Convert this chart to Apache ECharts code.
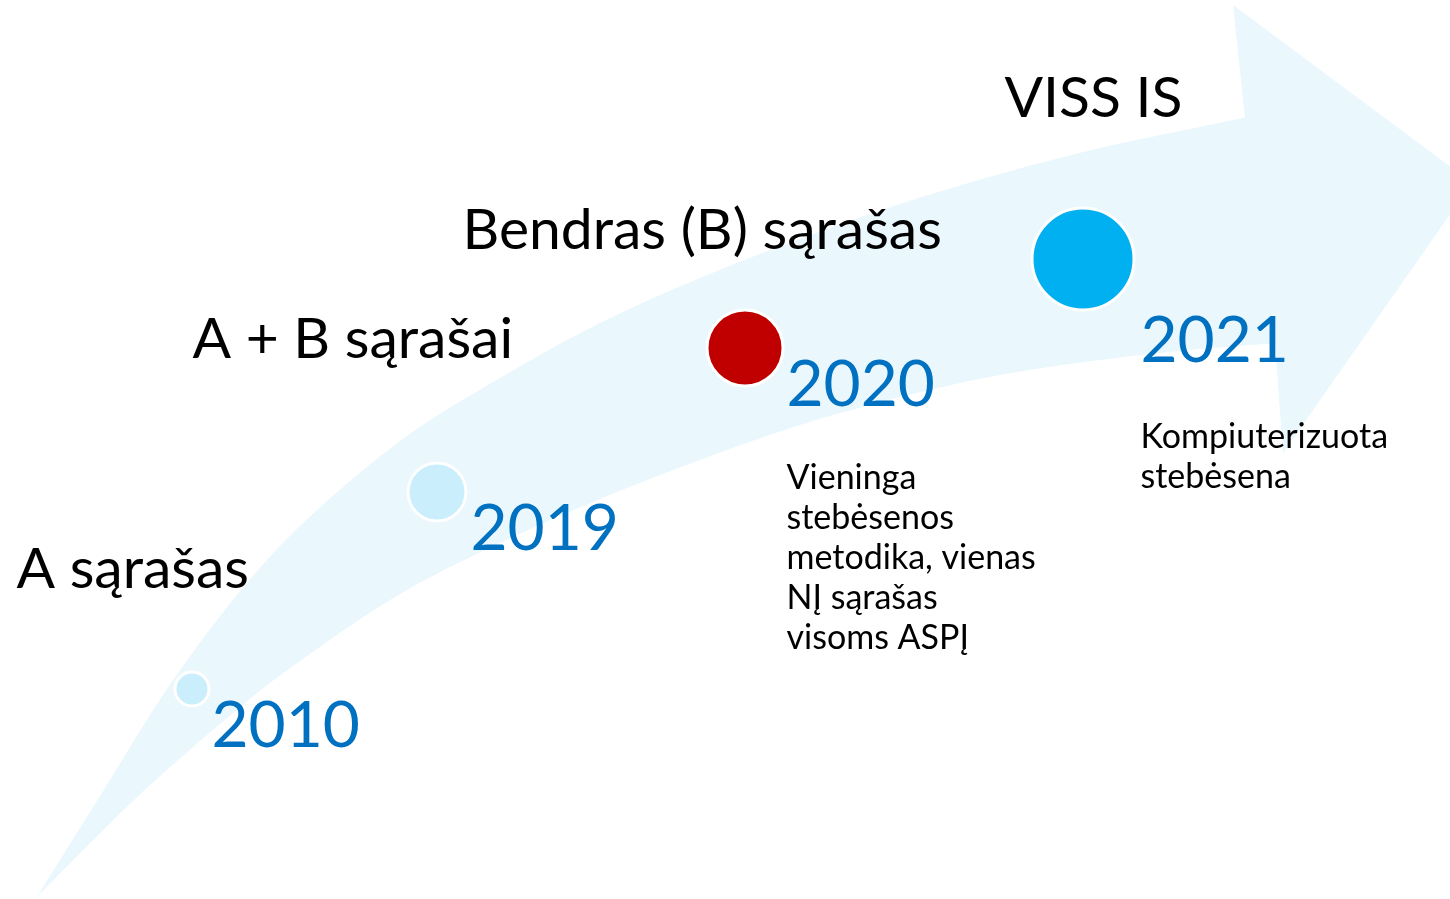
<!DOCTYPE html>
<html>
<head>
<meta charset="utf-8">
<title>NĮ sąrašų raida</title>
<script src="https://cdn.jsdelivr.net/npm/echarts@6/dist/echarts.min.js"></script>
<style>
    html, body { margin: 0; padding: 0; background: #fff; }
    #chart { width: 1450px; height: 899px; }
</style>
</head>
<body>
<div id="chart"></div>
<script>
// arrow outline (x right, y down)
var arrowTop = [[37, 897], [100, 796], [167, 689], [233, 600], [300, 526], [400, 441], [500, 378],
    [600, 323], [700, 278], [800, 239], [900, 204], [1000, 174], [1100, 148], [1200, 127], [1262, 114]];
var arrowBottom = [[1276, 343], [1200, 349], [1100, 360], [1000, 375], [900, 397], [800, 425],
    [700, 460], [600, 499], [500, 543], [400, 594], [300, 661], [233, 713], [133, 801], [37, 897]];
var arrowHead = [[1233, 5], [1472, 183], [1283, 453], [1275, 343], [1200, 349], [1200, 127], [1245, 118]];

// milestones
var years = ['2010', '2019', '2020', '2021'];
var dotX = [192, 437, 745, 1083];
var dotY = [689, 492, 348, 259];
var yearX = [212, 471, 787, 1141];
var yearY = [727, 530, 386, 342];

var titles = ['A sąrašas', 'A + B sąrašai', 'Bendras (B) sąrašas', 'VISS IS'];
var titleX = [17, 193, 463, 1005];
var titleY = [570, 340, 231, 99];

var notes = ['Vieninga\nstebėsenos\nmetodika, vienas\nNĮ sąrašas\nvisoms ASPĮ', 'Kompiuterizuota\nstebėsena'];
var noteX = [787, 1141];
var noteY = [459, 418];

var dotSize = [34, 58, 76, 102];
var dotColor = ['#cbeefc', '#cbeefc', '#c00000', '#00b0f0'];
var FONT = 'Lato';

function toPix(api, p) {
    return api.coord([p[0], p[1]]);
}

// smooth open curve through the points (catmull-rom as cubic beziers)
function curve(pts, start) {
    var d = start + pts[0][0] + ',' + pts[0][1];
    for (var i = 0; i < pts.length - 1; i++) {
        var p0 = pts[i - 1] || pts[i], p1 = pts[i], p2 = pts[i + 1], p3 = pts[i + 2] || pts[i + 1];
        var c1 = [p1[0] + (p2[0] - p0[0]) / 6, p1[1] + (p2[1] - p0[1]) / 6];
        var c2 = [p2[0] - (p3[0] - p1[0]) / 6, p2[1] - (p3[1] - p1[1]) / 6];
        d += ' C' + c1[0] + ',' + c1[1] + ' ' + c2[0] + ',' + c2[1] + ' ' + p2[0] + ',' + p2[1];
    }
    return d;
}

function renderArrow(params, api) {
    var top = arrowTop.map(function (p) { return toPix(api, p); });
    var bottom = arrowBottom.map(function (p) { return toPix(api, p); });
    var head = arrowHead.map(function (p) { return toPix(api, p); });
    var fill = '#eaf7fd';
    return {
        type: 'group',
        children: [
            {
                type: 'path',
                shape: { pathData: curve(top, 'M') + ' ' + curve(bottom, 'L') + ' Z' },
                style: { fill: fill }
            },
            {
                type: 'polygon',
                shape: { points: head },
                style: { fill: fill }
            }
        ]
    };
}

var dotData = years.map(function (y, i) {
    return {
        value: [dotX[i], dotY[i]],
        symbolSize: dotSize[i],
        itemStyle: { color: dotColor[i] }
    };
});

function textData(xs, ys, texts) {
    return texts.map(function (t, i) { return { value: [xs[i], ys[i]], name: t }; });
}

function textSeries(data, size, color, lineHeight, vAlign) {
    return {
        type: 'scatter',
        silent: true,
        symbolSize: 1,
        itemStyle: { color: 'rgba(0,0,0,0)', opacity: 1 },
        data: data,
        z: 5,
        label: {
            show: true,
            position: [0, 0],
            align: 'left',
            verticalAlign: vAlign,
            formatter: '{b}',
            color: color,
            opacity: 1,
            fontFamily: FONT,
            fontSize: size,
            lineHeight: lineHeight
        }
    };
}

var option = {
    animation: false,
    grid: { left: 0, right: 0, top: 0, bottom: 0 },
    xAxis: { type: 'value', min: 0, max: 1450, show: false },
    yAxis: { type: 'value', min: 0, max: 899, inverse: true, show: false },
    series: [
        {
            type: 'custom',
            silent: true,
            renderItem: renderArrow,
            data: [[0, 0]],
            z: 1
        },
        {
            type: 'scatter',
            silent: true,
            data: dotData,
            z: 3,
            itemStyle: { borderColor: '#ffffff', borderWidth: 3, opacity: 1 }
        },
        textSeries(textData(titleX, titleY, titles), 57, '#000000', 60, 'middle'),
        textSeries(textData(yearX, yearY, years), 64, '#0070c0', 70, 'middle'),
        textSeries(textData(noteX, noteY, notes), 34, '#000000', 40, 'top')
    ]
};

var chart = echarts.init(document.getElementById('chart'));
chart.setOption(option);
</script>
</body>
</html>
